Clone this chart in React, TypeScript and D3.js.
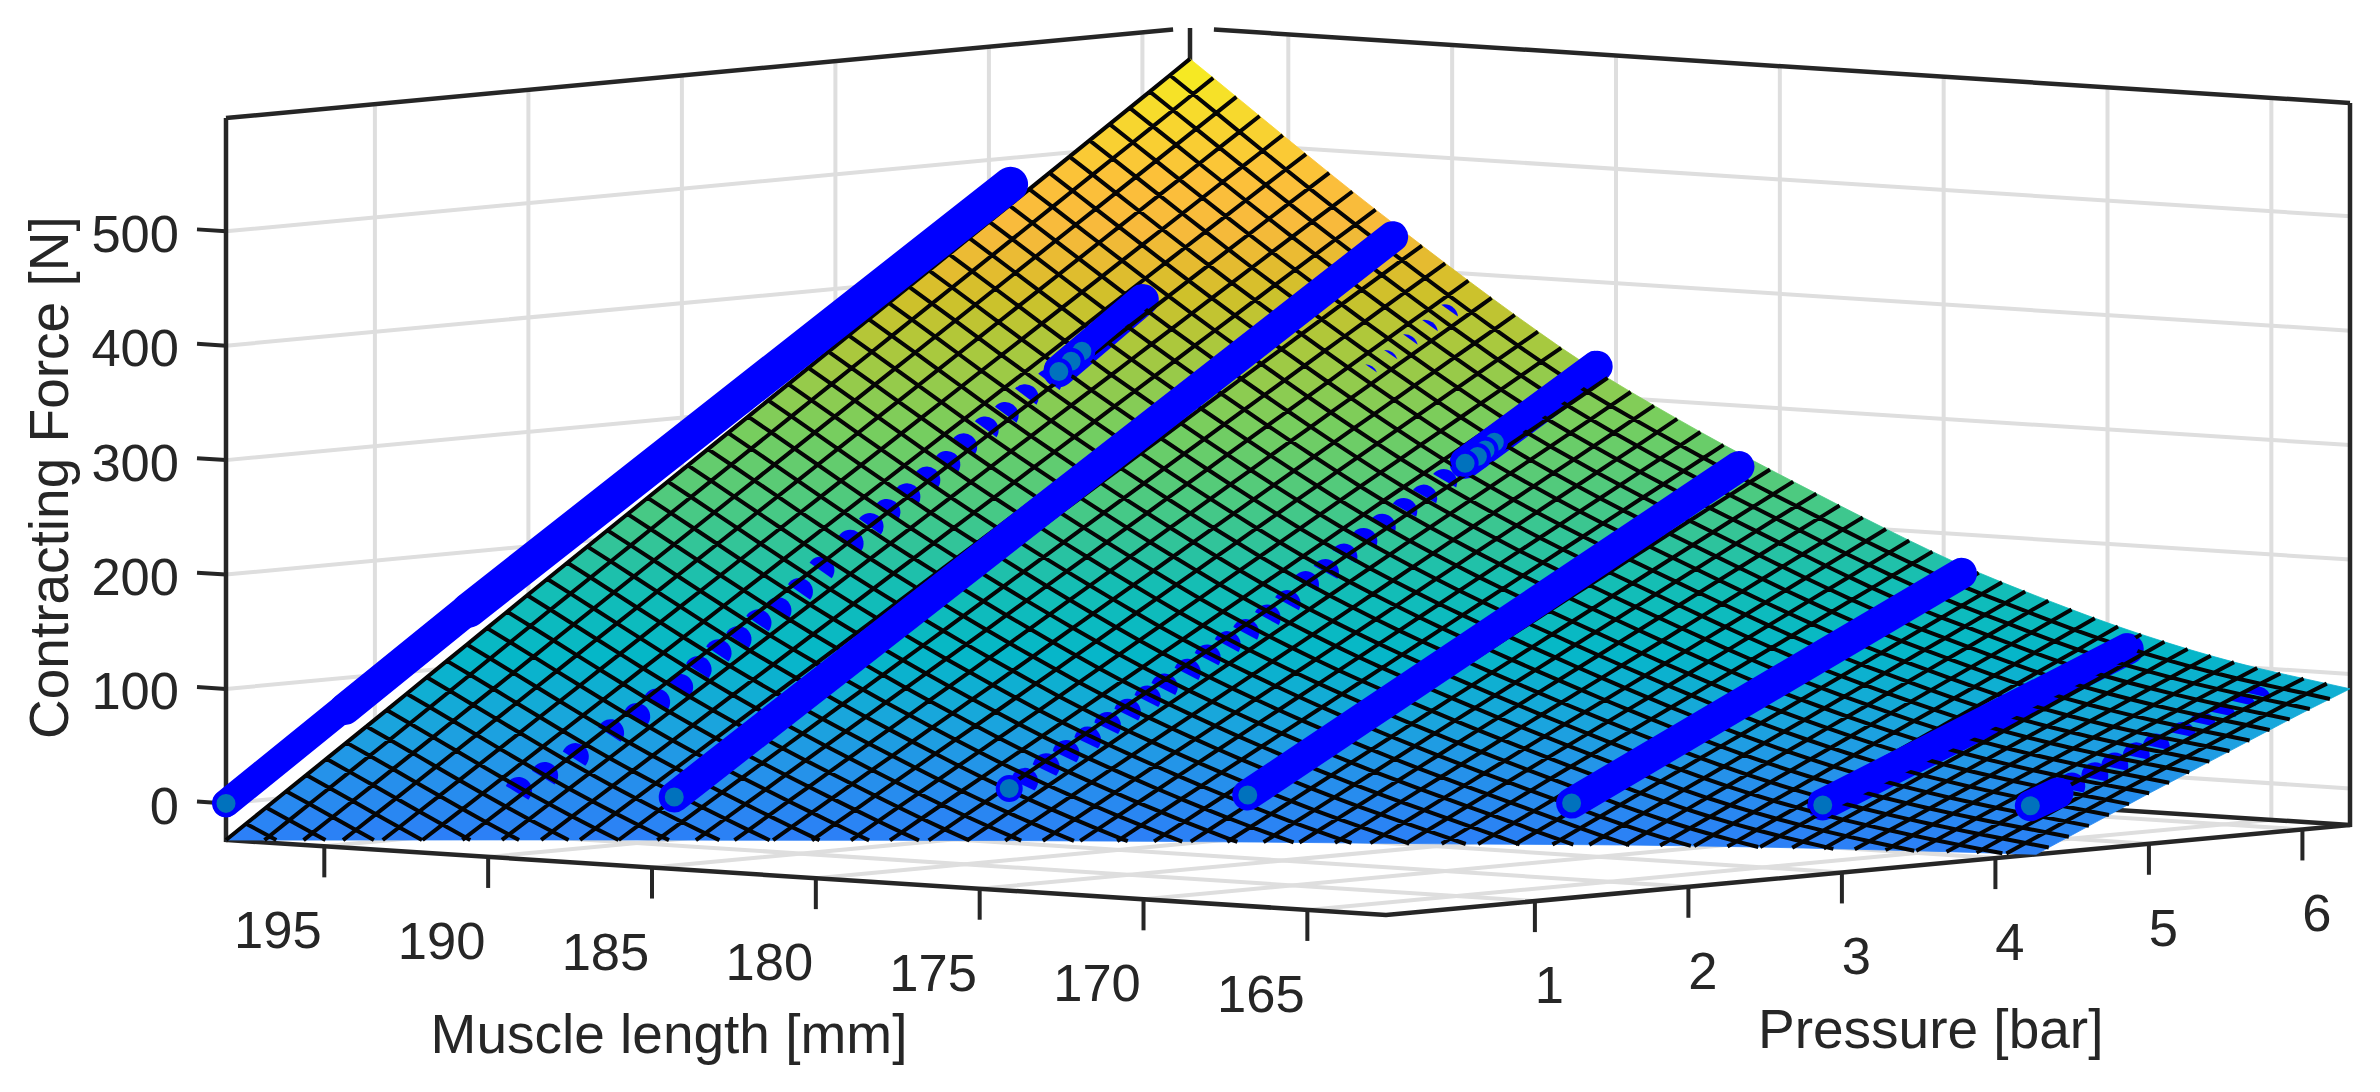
import React from "react";
import * as d3 from "d3";

// ---------- axis values ----------
const lengthTicks = [195, 190, 185, 180, 175, 170, 165];
const pressureTicks = [1, 2, 3, 4, 5, 6];
const forceTicks = [0, 100, 200, 300, 400, 500];
const lengthLimits = [198, 162.6];
const pressureLimits = [0.03, 6.31];
const forceLimits = [-32, 599];

// ---------- fitted surface at these nodes (the mesh is drawn through them) ----------
const surfaceLengths = [198, 192.4, 186.7, 183, 179, 174.8, 171.8, 169, 166, 162.6];
const surfacePressures = [0.03, 1, 2, 3, 4, 5, 6, 6.31];
const surfaceForce198 = [-32, 61, 158, 254, 350, 446, 542, 572];
const surfaceForce192 = [-106, -20, 69, 158, 247, 336, 425, 452];
const surfaceForce187 = [-165, -87, -6, 74, 155, 236, 316, 341];
const surfaceForce183 = [-197, -123, -47, 30, 106, 183, 259, 283];
const surfaceForce179 = [-224, -154, -82, -10, 63, 135, 207, 229];
const surfaceForce175 = [-242, -177, -111, -44, 23, 89, 156, 177];
const surfaceForce172 = [-260, -197, -133, -68, -3, 62, 127, 147];
const surfaceForce169 = [-269, -208, -146, -84, -21, 41, 103, 123];
const surfaceForce166 = [-272, -214, -155, -95, -35, 25, 85, 103];
const surfaceForce163 = [-264, -210, -154, -98, -48, 12, 70, 87];
const surfaceRows = [surfaceForce198, surfaceForce192, surfaceForce187, surfaceForce183, surfaceForce179, surfaceForce175, surfaceForce172, surfaceForce169, surfaceForce166, surfaceForce163];
const meshCellsLength = 50;
const meshCellsPressure = 48;

// ---------- colour table ----------
const colorForces = [-32, 20, 60, 110, 160, 220, 280, 350, 385, 410, 440, 476, 523, 572];
const colorValues = ["#2C7FF7", "#2592EA", "#19A6DC", "#05B7C8", "#14BEB5", "#47C985", "#75CE60", "#AEC83B", "#CFC12A", "#E6BB30", "#F8BA3C", "#FCC03A", "#F7D72E", "#F5F01E"];

// ---------- measurements: solid sweeps ----------
const sweep1Length = 198;
const sweep1Pressure = [0.03, 0.8, 1.6, 5.13];
const sweep1Force = [0, 74, 151, 479];
const sweep3 = { length: 191.16, pressure: [1.49, 6.17], force: [0, 431] };
const sweep5 = { length: 181.2, pressure: [3.1, 6.3], force: [0, 247] };
const sweep6 = { length: 173.8, pressure: [3.63, 6.17], force: [0, 169] };
const sweep7 = { length: 168.9, pressure: [4.22, 6.21], force: [0, 111.5] };

// ---------- measurements: sweeps that dip below the surface ----------
const dip2Length = 196.1;
const dip2Pressure = [1.53, 1.7, 1.9, 2.13, 2.3, 2.43, 2.58, 2.7, 2.83, 2.96, 3.09, 3.22, 3.36, 3.5, 3.69, 3.82, 3.93, 4.06, 4.19, 4.32, 4.43, 4.57, 4.7, 4.83, 4.98];
const dip2Force = [-4, 7, 21, 39, 51, 62, 73, 87, 100, 110, 123, 132, 147, 164, 185, 198, 209, 221, 234, 246, 260, 273, 284, 298, 309];
const dip2OpenPressure = [5.05, 5.13, 5.2];
const dip2OpenForce = [318, 326, 334];
const dip2EndPressure = 5.6;
const dip2EndForce = 374;

const dip4Length = 185.2;
const dip4Pressure = [2.5, 2.64, 2.77, 2.91, 3.04, 3.17, 3.3, 3.41, 3.56, 3.69, 3.82, 3.94, 4.08, 4.21, 4.33, 4.46, 4.58, 4.71, 4.83, 4.97, 5.1, 5.23];
const dip4Force = [12, 23, 33, 43, 54, 64, 74, 83, 94, 105, 115, 124, 135, 146, 161, 170, 182, 194, 205, 217, 227, 239];
const dip4OpenPressure = [5.37, 5.45, 5.5, 5.56];
const dip4OpenForce = [254, 259, 264, 270];
const dip4EndPressure = 6.23;
const dip4EndForce = 328;
const dip4StartPressure = 2.4;
const dip4StartForce = 7;

const hiddenLength = 188.5;
const hiddenPressure = [5.42, 5.55, 5.68, 5.81, 5.94];
const hiddenForce = [322, 333, 345, 356, 368];

const dip8Length = 165;
const dip8Pressure = [5.01, 5.16, 5.29, 5.43, 5.56, 5.73, 5.86, 5.99, 6.12, 6.22];
const dip8Force = [14, 21, 28, 35, 41, 49, 56, 62, 69, 74];
const dip8StartPressure = 4.74;
const dip8StartForce = 0;
const dip8LeadPressure = 4.92;
const dip8LeadForce = 9;

// ---------- layout ----------
const W = 2380;
const H = 1092;
const originX = 226;
const originY = 840;
const ink = "#262626";
const gridColor = "#dedede";
const markerEdge = "#0000ff";
const markerFill = "#0072BD";
const R = 13.5;
const TUBE = 31;
const font = "'Liberation Sans', Arial, sans-serif";

const xL = d3.scaleLinear().domain(lengthLimits).range([0, 1160]);
const yL = d3.scaleLinear().domain(lengthLimits).range([0, 75]);
const xP = d3.scaleLinear().domain(pressureLimits).range([0, 964]);
const yP = d3.scaleLinear().domain(pressureLimits).range([0, -90]);
const yF = d3.scaleLinear().domain(forceLimits).range([0, -722]);
const colorScale = d3.scaleLinear<string>().domain(colorForces).range(colorValues).clamp(true);

type P2 = [number, number];
const project = (l: number, p: number, f: number): P2 => [
  originX + xL(l) + xP(p),
  originY + yL(l) + yP(p) + yF(f),
];

function surfaceForce(l: number, p: number): number {
  const column = (row: number[]) => d3.scaleLinear().domain(surfacePressures).range(row)(p);
  const vals = surfaceRows.map(column);
  const L = surfaceLengths;
  let i = 0;
  while (i < L.length - 2 && l < L[i + 1]) i++;
  const tan = (k: number) => {
    const a = Math.max(0, k - 1);
    const b = Math.min(L.length - 1, k + 1);
    return (vals[b] - vals[a]) / (L[b] - L[a]);
  };
  const h = L[i + 1] - L[i];
  const t = (l - L[i]) / h;
  const t2 = t * t;
  const t3 = t2 * t;
  return (
    (2 * t3 - 3 * t2 + 1) * vals[i] +
    (t3 - 2 * t2 + t) * h * tan(i) +
    (-2 * t3 + 3 * t2) * vals[i + 1] +
    (t3 - t2) * h * tan(i + 1)
  );
}

type V3 = [number, number, number];
function clipPoly(poly: V3[], zMin: number): V3[] {
  const out: V3[] = [];
  poly.forEach((a, i) => {
    const b = poly[(i + 1) % poly.length];
    const ia = a[2] >= zMin;
    const ib = b[2] >= zMin;
    if (ia) out.push(a);
    if (ia !== ib) {
      const t = (zMin - a[2]) / (b[2] - a[2]);
      out.push([a[0] + (b[0] - a[0]) * t, a[1] + (b[1] - a[1]) * t, zMin]);
    }
  });
  return out;
}

const lineGen = d3.line<P2>();

function buildMesh() {
  const zMin = forceLimits[0];
  const ls = d3.range(meshCellsLength + 1).map((i) => lengthLimits[0] + ((lengthLimits[1] - lengthLimits[0]) * i) / meshCellsLength);
  const ps = d3.range(meshCellsPressure + 1).map((j) => pressureLimits[0] + ((pressureLimits[1] - pressureLimits[0]) * j) / meshCellsPressure);
  const z = ls.map((l) => ps.map((p) => surfaceForce(l, p)));
  const cells: { d: string; fill: string }[] = [];
  for (let i = 0; i < meshCellsLength; i++) {
    for (let j = 0; j < meshCellsPressure; j++) {
      const q: V3[] = [
        [ls[i], ps[j], z[i][j]],
        [ls[i + 1], ps[j], z[i + 1][j]],
        [ls[i + 1], ps[j + 1], z[i + 1][j + 1]],
        [ls[i], ps[j + 1], z[i][j + 1]],
      ];
      const c = clipPoly(q, zMin);
      if (c.length < 3) continue;
      const pts = c.map((v) => project(v[0], v[1], v[2]));
      cells.push({
        d: (lineGen(pts) as string) + "Z",
        fill: colorScale(d3.mean(q, (v) => v[2]) as number),
      });
    }
  }
  let mesh = "";
  const seg = (a: V3, b: V3) => {
    if (a[2] < zMin && b[2] < zMin) return;
    let s = a;
    let e = b;
    if (s[2] < zMin || e[2] < zMin) {
      const t = (zMin - a[2]) / (b[2] - a[2]);
      const m: V3 = [a[0] + (b[0] - a[0]) * t, a[1] + (b[1] - a[1]) * t, zMin];
      if (s[2] < zMin) s = m;
      else e = m;
    }
    mesh += lineGen([project(s[0], s[1], s[2]), project(e[0], e[1], e[2])]);
  };
  for (let i = 0; i < meshCellsLength; i++) {
    for (let j = 0; j < meshCellsPressure; j++) {
      seg([ls[i], ps[j], z[i][j]], [ls[i], ps[j + 1], z[i][j + 1]]);
      seg([ls[i], ps[j], z[i][j]], [ls[i + 1], ps[j], z[i + 1][j]]);
    }
  }
  return { cells, mesh };
}

function capPath(l: number, p: number, f: number, cut: number): string {
  const [cx, cy] = project(l, p, f);
  const a = project(l + 0.7, p, surfaceForce(l + 0.7, p));
  const b = project(l - 0.7, p, surfaceForce(l - 0.7, p));
  const tx = b[0] - a[0];
  const ty = b[1] - a[1];
  const m = Math.hypot(tx, ty);
  const nx = ty / m;
  const ny = -tx / m;
  const h = R * Math.sqrt(1 - cut * cut);
  const mx = cx + nx * cut * R;
  const my = cy + ny * cut * R;
  const ux = -ny;
  const uy = nx;
  const pth = d3.path();
  pth.moveTo(mx - ux * h, my - uy * h);
  return `${pth.toString()}A${R},${R} 0 ${cut < 0 ? 1 : 0} 1 ${mx + ux * h},${my + uy * h}Z`;
}

const Marker = ({ l, p, f }: { l: number; p: number; f: number }) => {
  const [x, y] = project(l, p, f);
  return <circle cx={x} cy={y} r={R - 2} fill={markerFill} stroke={markerEdge} strokeWidth={4} />;
};

const Tube = ({ l, p0, f0, p1, f1, w = TUBE, sx = 0, sy = 0 }: { l: number; p0: number; f0: number; p1: number; f1: number; w?: number; sx?: number; sy?: number }) => (
  <path
    d={lineGen([project(l, p0, f0), project(l, p1, f1)]) as string}
    transform={`translate(${sx},${sy})`}
    stroke={markerEdge}
    strokeWidth={w}
    strokeLinecap="round"
    fill="none"
  />
);

export default function App() {
  const { cells, mesh } = React.useMemo(buildMesh, []);
  const [lTop, lBottom] = lengthLimits;
  const [pLo, pHi] = pressureLimits;
  const [zLo, zHi] = forceLimits;
  const L = (pts: P2[], color: string, width: number, key: string) => (
    <path key={key} d={lineGen(pts) as string} stroke={color} strokeWidth={width} fill="none" strokeLinejoin="miter" />
  );
  const gridW = 4;
  const axisW = 4.5;
  const lerp = (a: number, b: number, i: number, n: number) => a + ((b - a) * i) / Math.max(1, n - 1);

  return (
    <svg width={W} height={H} viewBox={`0 0 ${W} ${H}`} style={{ position: "absolute", left: 0, top: 0, display: "block", background: "#fff" }} fontFamily={font}>
      {/* grid: walls and floor */}
      {forceTicks.map((f) => L([project(lTop, pLo, f), project(lTop, pHi, f), project(lBottom, pHi, f)], gridColor, gridW, "gz" + f))}
      {pressureTicks.map((p) => L([project(lBottom, p, zLo), project(lTop, p, zLo), project(lTop, p, zHi)], gridColor, gridW, "gp" + p))}
      {lengthTicks.map((l) => L([project(l, pLo, zLo), project(l, pHi, zLo), project(l, pHi, zHi)], gridColor, gridW, "gl" + l))}

      {/* box */}
      {L([project(lTop, pLo, zHi), project(lTop, pLo, zLo), project(lBottom, pLo, zLo), project(lBottom, pHi, zLo), project(lBottom, pHi, zHi)], ink, axisW, "front")}
      {L([project(lTop, pLo, zHi), project(lTop, 6.2, zHi)], ink, axisW, "topL")}
      {L([project(197.27, pHi, zHi), project(lBottom, pHi, zHi)], ink, axisW, "topR")}
      {L([project(lTop, pHi, zHi), project(lTop, pHi, zLo)], ink, axisW, "backV")}
      {L([project(lTop, pLo, zLo), project(lTop, pHi, zLo), project(lBottom, pHi, zLo)], ink, axisW, "backF")}

      {/* ticks */}
      {lengthTicks.map((l) => {
        const a = project(l, pLo, zLo);
        return L([a, [a[0], a[1] + 31]], ink, 4, "tl" + l);
      })}
      {pressureTicks.map((p) => {
        const a = project(lBottom, p, zLo);
        return L([a, [a[0], a[1] + 31]], ink, 4, "tp" + p);
      })}
      {forceTicks.map((f) => {
        const a = project(lTop, pLo, f);
        return L([a, [a[0] - 29, a[1] - 1.9]], ink, 4, "tf" + f);
      })}

      {/* surface */}
      {cells.map((c, i) => (
        <path key={i} d={c.d} fill={c.fill} stroke={c.fill} strokeWidth={0.8} />
      ))}

      {/* parts of the markers that stick out of the surface */}
      <g fill={markerEdge}>
        {dip2Pressure.map((p, i) => (
          <path key={i} d={capPath(dip2Length, p, dip2Force[i], lerp(-0.2, 0.1, i, dip2Pressure.length))} />
        ))}
        {dip4Pressure.map((p, i) => (
          <path key={i} d={capPath(dip4Length, p, dip4Force[i], lerp(-0.3, 0.15, i, dip4Pressure.length))} />
        ))}
        {hiddenPressure.map((p, i) => (
          <path key={i} d={capPath(hiddenLength, p, hiddenForce[i], lerp(0.85, 0.65, i, hiddenPressure.length))} />
        ))}
        {dip8Pressure.map((p, i) => (
          <path key={i} d={capPath(dip8Length, p, dip8Force[i], lerp(-0.3, 0.35, i, dip8Pressure.length))} />
        ))}
      </g>
      <Tube l={dip2Length} p0={dip2OpenPressure[0]} f0={dip2OpenForce[0]} p1={dip2EndPressure} f1={dip2EndForce} />
      <Tube l={dip4Length} p0={dip4OpenPressure[0]} f0={dip4OpenForce[0]} p1={dip4EndPressure} f1={dip4EndForce} />
      <Tube l={sweep7.length} p0={sweep7.pressure[0]} f0={sweep7.force[0]} p1={sweep7.pressure[1]} f1={sweep7.force[1]} />

      {/* mesh */}
      <path d={mesh} stroke="#050505" strokeWidth={4} fill="none" strokeLinecap="butt" />

      {/* sweeps above the surface */}
      <Tube l={sweep1Length} p0={sweep1Pressure[2]} f0={sweep1Force[2]} p1={sweep1Pressure[3]} f1={sweep1Force[3]} w={35} sx={1.7} sy={2.1} />
      <Tube l={sweep1Length} p0={sweep1Pressure[1]} f0={sweep1Force[1]} p1={sweep1Pressure[2]} f1={sweep1Force[2]} w={32} sx={1} sy={1.2} />
      <Tube l={sweep1Length} p0={sweep1Pressure[0]} f0={sweep1Force[0]} p1={sweep1Pressure[1]} f1={sweep1Force[1]} w={28} />
      <Marker l={sweep1Length} p={sweep1Pressure[0]} f={sweep1Force[0]} />
      {[sweep3, sweep5, sweep6].map((s) => (
        <g key={s.length}>
          <Tube l={s.length} p0={s.pressure[0]} f0={s.force[0]} p1={s.pressure[1]} f1={s.force[1]} />
          <Marker l={s.length} p={s.pressure[0]} f={s.force[0]} />
        </g>
      ))}
      <Tube l={sweep7.length} p0={sweep7.pressure[0]} f0={sweep7.force[0]} p1={sweep7.pressure[1]} f1={sweep7.force[1]} w={25} sx={-2.2} sy={-3} />
      <Marker l={sweep7.length} p={sweep7.pressure[0]} f={sweep7.force[0]} />
      <Tube l={dip2Length} p0={dip2OpenPressure[0]} f0={dip2OpenForce[0]} p1={dip2EndPressure} f1={dip2EndForce} w={25} sx={-2.2} sy={-3} />
      {dip2OpenPressure.slice().reverse().map((p, i, arr) => (
        <Marker key={p} l={dip2Length} p={p} f={dip2OpenForce[arr.length - 1 - i]} />
      ))}
      <Tube l={dip4Length} p0={dip4OpenPressure[0]} f0={dip4OpenForce[0]} p1={dip4EndPressure} f1={dip4EndForce} w={25} sx={-2.2} sy={-3} />
      {dip4OpenPressure.slice().reverse().map((p, i, arr) => (
        <Marker key={p} l={dip4Length} p={p} f={dip4OpenForce[arr.length - 1 - i]} />
      ))}
      <Marker l={dip4Length} p={dip4StartPressure} f={dip4StartForce} />
      <Tube l={dip8Length} p0={dip8StartPressure} f0={dip8StartForce} p1={dip8LeadPressure} f1={dip8LeadForce} />
      <Marker l={dip8Length} p={dip8StartPressure} f={dip8StartForce} />

      {/* labels */}
      <g fill={ink} fontSize={52.5}>
        {lengthTicks.map((l) => {
          const a = project(l, pLo, zLo);
          return (
            <text key={l} x={a[0] - 46.5} y={a[1] + 31 + 71} textAnchor="middle">
              {l}
            </text>
          );
        })}
        {pressureTicks.map((p) => {
          const a = project(lBottom, p, zLo);
          return (
            <text key={p} x={a[0] + 14.5} y={a[1] + 31 + 71} textAnchor="middle">
              {p}
            </text>
          );
        })}
        {forceTicks.map((f) => {
          const a = project(lTop, pLo, f);
          return (
            <text key={f} x={179} y={a[1] + 20.5} textAnchor="end">
              {f}
            </text>
          );
        })}
      </g>
      <g fill={ink} fontSize={55}>
        <text x={430.6} y={1052.7}>Muscle length [mm]</text>
        <text x={1758} y={1048}>Pressure [bar]</text>
        <text transform="translate(68,739) rotate(-90)">Contracting Force [N]</text>
      </g>
    </svg>
  );
}
